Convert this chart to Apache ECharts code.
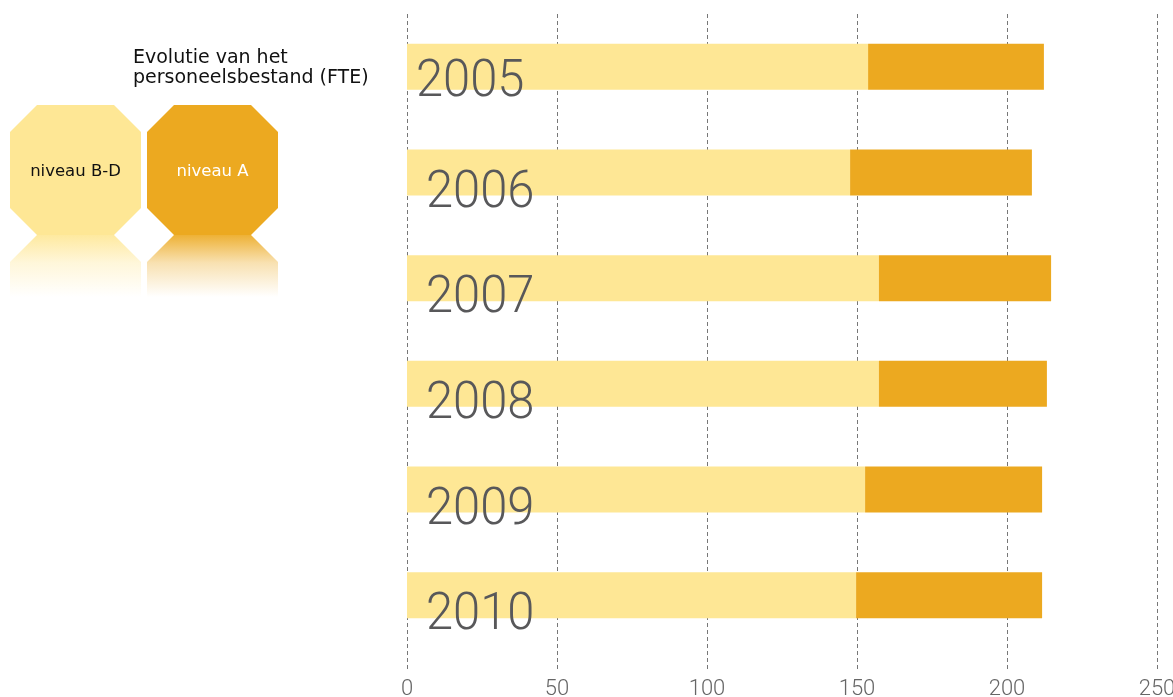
<!DOCTYPE html>
<html>
<head>
<meta charset="utf-8">
<script src="https://cdn.jsdelivr.net/npm/echarts@6/dist/echarts.min.js"></script>
<style>
  html, body { margin: 0; padding: 0; background: #fff; }
  #main { width: 1173px; height: 697px; }
</style>
</head>
<body>
<div id="main"></div>
<script>
// data
var years = ['2005', '2006', '2007', '2008', '2009', '2010'];
var niveauBD = [153.7, 147.7, 157.3, 157.3, 152.7, 149.7];
var niveauA = [58.6, 60.6, 57.4, 56.0, 59.0, 62.0];
var seriesNames = ['niveau B-D', 'niveau A'];
var xTicks = [0, 50, 100, 150, 200, 250];
var titleText = 'Evolutie van het\npersoneelsbestand (FTE)';

var lightColor = '#FEE795';
var darkColor = '#ECA920';

// octagon legend shapes
function octagon(x, y, w, h, c) {
  return [[x + c, y], [x + w - c, y], [x + w, y + c], [x + w, y + h - c],
          [x + w - c, y + h], [x + c, y + h], [x, y + h - c], [x, y + c]];
}
function reflection(x, y, w, c, len) {
  return [[x + c, y], [x + w - c, y], [x + w, y + c], [x + w, y + len], [x, y + len], [x, y + c]];
}
function fade(rgb) {
  return {
    type: 'linear', x: 0, y: 0, x2: 0, y2: 1,
    colorStops: [
      { offset: 0, color: 'rgba(' + rgb + ',0.9)' },
      { offset: 0.45, color: 'rgba(' + rgb + ',0.35)' },
      { offset: 1, color: 'rgba(' + rgb + ',0)' }
    ]
  };
}

var legendBoxes = [
  { x: 10, color: lightColor, rgb: '254,231,149', text: '#111' },
  { x: 147, color: darkColor, rgb: '236,169,32', text: '#fff' }
];
var graphics = [];
legendBoxes.forEach(function (b, i) {
  graphics.push({
    type: 'polygon', silent: true,
    shape: { points: reflection(b.x, 235, 131, 27, 62) },
    style: { fill: fade(b.rgb) }
  });
  graphics.push({
    type: 'polygon', silent: true,
    shape: { points: octagon(b.x, 105, 131, 130, 27) },
    style: { fill: b.color }
  });
  graphics.push({
    type: 'text', silent: true,
    x: b.x + 65.5, y: 172,
    style: {
      text: seriesNames[i], fill: b.text, align: 'center', verticalAlign: 'middle',
      font: '16.5px "DejaVu Sans"'
    }
  });
});
graphics.push({
  type: 'text', silent: true, x: 133, y: 48,
  style: {
    text: titleText, fill: '#111', font: '19px "DejaVu Sans"', lineHeight: 20
  }
});

var dom = document.getElementById('main');
var myChart = echarts.init(dom);
var option = {
  animation: false,
  backgroundColor: '#fff',
  grid: [
    { left: 407, right: 16, top: 14, bottom: 49, outerBoundsMode: 'none', containLabel: false },
    { left: 407, right: 16, top: 14, bottom: 25, outerBoundsMode: 'none', containLabel: false }
  ],
  xAxis: [
    {
      gridIndex: 0, type: 'value', min: xTicks[0], max: xTicks[xTicks.length - 1],
      interval: 50, show: false, splitLine: { show: false }
    },
    {
      gridIndex: 1, type: 'value', min: xTicks[0], max: xTicks[xTicks.length - 1],
      interval: 50,
      axisLine: { show: false },
      axisTick: { show: false },
      axisLabel: {
        margin: 6, color: '#666',
        fontFamily: 'Roboto', fontWeight: 300, fontSize: 22
      },
      splitLine: { show: true, lineStyle: { color: '#777', type: [4, 3], width: 1 } }
    }
  ],
  yAxis: [
    {
      gridIndex: 0, type: 'category', data: years, inverse: true,
      axisLine: { show: false },
      axisTick: { show: false },
      axisLabel: { show: false }
    },
    { gridIndex: 1, type: 'value', show: false, splitLine: { show: false } }
  ],
  series: [
    {
      name: seriesNames[0], type: 'bar', stack: 'fte', xAxisIndex: 0, yAxisIndex: 0,
      barWidth: 46, itemStyle: { color: lightColor }, data: niveauBD
    },
    {
      name: seriesNames[1], type: 'bar', stack: 'fte', xAxisIndex: 0, yAxisIndex: 0,
      barWidth: 46, itemStyle: { color: darkColor }, data: niveauA
    }
  ]
};
myChart.setOption(option, true);

// big year labels over the bars, placed from the category axis
var x0 = myChart.convertToPixel({ xAxisIndex: 0 }, 0);
years.forEach(function (y, i) {
  var yc = myChart.convertToPixel({ yAxisIndex: 0 }, y);
  var first = i === 0;
  graphics.push({
    type: 'text', silent: true, z: 100,
    x: x0 + (first ? 9 : 19), y: yc + (first ? 16 : 21),
    scaleX: 0.94,
    style: {
      text: y, fill: '#58585a', verticalAlign: 'middle', align: 'left',
      font: '300 52px Roboto'
    }
  });
});
myChart.setOption({ graphic: graphics });
</script>
</body>
</html>
